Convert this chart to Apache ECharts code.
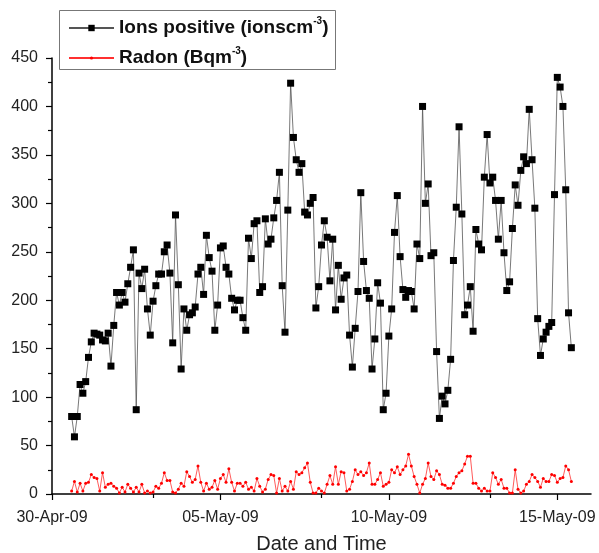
<!DOCTYPE html>
<html>
<head>
    <meta charset="utf-8" />
    <title>Ions and Radon</title>
    <script src="https://cdn.jsdelivr.net/npm/echarts@6/dist/echarts.min.js"></script>
    <style>
        body { margin: 0; background: #fff; }
    </style>
</head>
<body>
<div id="main" style="width: 599px;height:553px;"></div>
<script type="text/javascript">
    // sampling: every 2 hours, first reading 30-Apr-09 14:00
    var startDay = 14 / 24;          // days after 30-Apr-09 00:00
    var stepDay = 2 / 24;
    var totalDays = 16;

    // tick labels on the date axis (every 5 days)
    var dateLabels = ['30-Apr-09', '05-May-09', '10-May-09', '15-May-09'];

    // positive ions (ions cm^-3)
    var ionsPositive = [
        80, 59, 80, 113, 104, 116, 141, 157, 166, 165, 164, 159, 158, 166, 132, 174, 208, 195, 208, 198,
        217, 234, 252, 87, 228, 212, 232, 191, 164, 199, 215, 227, 227, 250, 257, 228, 156, 288, 216, 129, 191,
        169, 185, 187, 193, 227, 234, 206, 267, 244, 230, 169, 195, 254, 256, 234, 227, 202, 190, 200, 200,
        182, 169, 264, 243, 279, 282, 208, 214, 284, 258, 263, 285, 303, 332, 215, 167, 293, 424, 368, 345,
        332, 341, 291, 288, 300, 306, 192, 214,
        257, 282, 265, 220, 263, 190, 236, 201, 223, 226, 164, 131, 171, 209, 311, 240, 210, 202, 129, 160,
        218, 197, 87, 104, 163, 191, 270, 308, 245, 211, 203, 210, 209, 191, 258, 243, 400, 300, 320, 246, 249, 147,
        78, 101, 93, 107, 139, 241, 296, 379, 289, 185, 195, 214, 168, 273, 258, 252, 327, 371, 321, 327,
        303, 263, 303, 249, 210, 219, 274, 319, 298, 334, 348, 341, 397, 345, 295, 181, 143, 160, 167, 173,
        177, 309, 430, 420, 400, 314, 187, 151
    ];

    // radon (Bq m^-3)
    var radon = [
        3, 13, 2, 11, 3, 11, 12, 20, 17, 16, 3, 22, 7, 10, 11, 8, 6, 1, 7,
        2, 10, 6, 2, 7, 2, 10, 1, 3, 1, 2, 8, 6, 11, 22, 14, 14, 2,
        1, 5, 11, 8, 23, 18, 12, 15, 29, 12, 3, 11, 5, 7, 14, 5, 16, 20, 12, 26,
        12, 3, 11, 11, 8, 12, 5, 7, 3, 16, 8, 2, 5, 15, 20, 19, 1, 16, 3,
        8, 3, 13, 5, 23, 20, 22, 27, 32,
        12, 1, 1, 6, 3, 1, 10, 19, 10, 28, 10, 23, 22, 3, 5, 13, 25, 20, 23, 19,
        22, 32, 10, 10, 15, 22, 8, 10, 12, 25, 22, 28, 20, 25, 29, 41, 29, 18, 10, 1,
        10, 16, 32, 18, 15, 24, 20, 10, 9, 6, 6, 11, 18, 22, 24, 31, 39, 39, 11, 11,
        6, 3, 6, 3, 3, 22, 17, 10, 15, 6, 6, 1, 1, 25, 5, 1, 3, 10, 13, 20,
        17, 13, 7, 16, 13, 13, 20, 19, 12, 16, 17, 29, 25, 13
    ];

    function toPairs(values) {
        var out = [];
        for (var i = 0; i < values.length; i++) {
            out.push([startDay + i * stepDay, values[i]]);
        }
        return out;
    }

    // one category per day, used only for the small ticks between the dates
    var dayCats = [];
    for (var d = 0; d <= totalDays; d++) dayCats.push(String(d));

    var font = 'Liberation Sans, Arial, sans-serif';
    var rich = {
        t: { fontSize: 19, fontWeight: 'bold', color: '#111', lineHeight: 24, fontFamily: font },
        s: { fontSize: 10, fontWeight: 'bold', color: '#111', verticalAlign: 'top', lineHeight: 10, fontFamily: font }
    };
    var legendText = {
        ions: '{t|Ions positive (ionscm}{s|-3}{t|)}',
        radon: '{t|Radon (Bqm}{s|-3}{t|)}'
    };

    var myChart = echarts.init(document.getElementById('main'));

    var option = {
        backgroundColor: '#fff',
        animation: false,
        grid: { left: 52, right: 8, top: 58, bottom: 59, containLabel: false, outerBoundsMode: 'none' },
        graphic: [{
            type: 'rect',
            left: 59,
            top: 10,
            shape: { width: 276, height: 59 },
            style: { fill: '#fff', stroke: '#777', lineWidth: 1 },
            z: 50
        }],
        legend: [{
            left: 68,
            top: 16,
            padding: 0,
            itemWidth: 45,
            itemHeight: 8,
            formatter: function (name) { return legendText[name]; },
            textStyle: { fontFamily: font, rich: rich },
            z: 60,
            data: ['ions']
        }, {
            left: 68,
            top: 46,
            padding: 0,
            itemWidth: 45,
            itemHeight: 4,
            formatter: function (name) { return legendText[name]; },
            textStyle: { fontFamily: font, rich: rich },
            z: 60,
            data: ['radon']
        }],
        xAxis: [{
            type: 'value',
            min: 0,
            max: totalDays,
            interval: 5,
            name: 'Date and Time',
            nameLocation: 'middle',
            nameGap: 40,
            nameTextStyle: { fontSize: 20, color: '#222', fontFamily: font },
            axisLine: { lineStyle: { color: '#000', width: 1.5 } },
            axisTick: { length: 6, lineStyle: { color: '#000', width: 1.2 } },
            axisLabel: {
                margin: 16,
                fontSize: 16,
                color: '#222',
                fontFamily: font,
                showMaxLabel: false,
                formatter: function (v) {
                    return v % 5 === 0 ? dateLabels[v / 5] : '';
                }
            },
            splitLine: { show: false }
        }, {
            // small ticks at 3, 8 and 13 days
            type: 'category',
            position: 'bottom',
            data: dayCats,
            boundaryGap: false,
            axisLine: { show: false },
            axisTick: {
                length: 4,
                interval: function (i) { return i % 5 === 3; },
                lineStyle: { color: '#000', width: 1.2 }
            },
            axisLabel: { show: false },
            splitLine: { show: false }
        }],
        yAxis: {
            type: 'value',
            min: 0,
            max: 450,
            interval: 50,
            axisLine: { show: true, lineStyle: { color: '#000', width: 1.5 } },
            axisTick: { show: true, length: 6, lineStyle: { color: '#000', width: 1.2 } },
            minorTick: { show: true, splitNumber: 2, length: 4, lineStyle: { color: '#000', width: 1.2 } },
            axisLabel: { margin: 14, fontSize: 16, color: '#222', fontFamily: font },
            splitLine: { show: false }
        },
        series: [
            {
                name: 'ions',
                type: 'line',
                data: toPairs(ionsPositive),
                symbol: 'rect',
                symbolSize: 7,
                itemStyle: { color: '#000' },
                lineStyle: { color: '#555', width: 0.8 },
                z: 3
            },
            {
                name: 'radon',
                type: 'line',
                data: toPairs(radon),
                symbol: 'circle',
                symbolSize: 3,
                itemStyle: { color: '#ff0000' },
                lineStyle: { color: '#ff3030', width: 0.8 },
                z: 2
            }
        ]
    };

    myChart.setOption(option);
</script>
</body>
</html>
